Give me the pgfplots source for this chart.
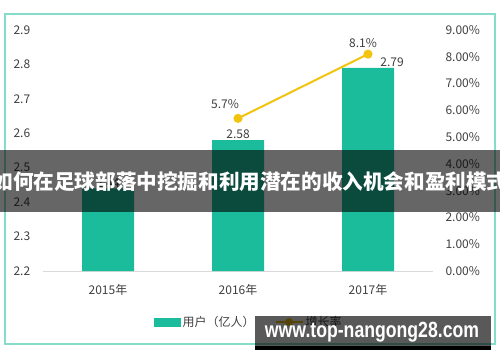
\documentclass[border=0pt]{standalone}
\usepackage{fontspec}
\setmainfont{Noto Sans CJK SC}
\newfontfamily\wmfont{Liberation Sans}
\usepackage{pgfplots}
\pgfplotsset{compat=1.18}
\definecolor{barc}{HTML}{1ABC9C}
\definecolor{gold}{HTML}{F2C40F}
\definecolor{framec}{HTML}{86DCCB}
\definecolor{txt}{HTML}{404040}
\definecolor{gridc}{HTML}{D9D9D9}
\begin{document}
\begin{tikzpicture}
\useasboundingbox (0,0) rectangle (500bp,-362bp);
\clip (0,0) rectangle (500bp,-362bp);
\fill[white] (0,0) rectangle (500bp,-362bp);
\draw[framec, line width=1.5bp] (5bp,-14bp) rectangle (495bp,-344bp);
\begin{axis}[
  scale only axis, width=390bp, height=241bp,
  at={(43bp,-271bp)}, anchor=south west,
  xmin=-0.5, xmax=2.5, ymin=2.2, ymax=2.9,
  axis x line*=bottom, axis y line*=left,
  x axis line style={gridc, line width=1bp, -},
  y axis line style={draw=none},
  major tick length=0,
  xtick={0,1,2}, xticklabels={2015年,2016年,2017年},
  ytick={2.2,2.3,2.4,2.5,2.6,2.7,2.8,2.9},
  yticklabel style={anchor=west, xshift=-33bp, /pgf/number format/fixed, /pgf/number format/precision=1},
  xticklabel style={yshift=-10bp},
  tick label style={font=\fontsize{12bp}{14bp}\selectfont, text=txt},
  /pgf/number format/assume math mode=true,
  clip=false,
]
\addplot[ybar, bar width=52bp, fill=barc, draw=none] coordinates {(0,2.44) (1,2.58) (2,2.79)};
\node[above, inner sep=1bp, text=txt, font=\fontsize{12bp}{14bp}\selectfont] at (axis cs:0,2.44) {2.44};
\node[above, inner sep=1bp, text=txt, font=\fontsize{12bp}{14bp}\selectfont] at (axis cs:1,2.58) {2.58};
\node[above, inner sep=1bp, text=txt, font=\fontsize{12bp}{14bp}\selectfont, xshift=24bp] at (axis cs:2,2.79) {2.79};
\end{axis}
\begin{axis}[
  scale only axis, width=390bp, height=241bp,
  at={(43bp,-271bp)}, anchor=south west,
  xmin=-0.5, xmax=2.5, ymin=0, ymax=9,
  axis y line*=right, axis x line=none,
  y axis line style={draw=none},
  major tick length=0,
  ytick={0,1,2,3,4,5,6,7,8,9},
  yticklabel={\pgfmathprintnumber[fixed,fixed zerofill,precision=2]{\tick}\%},
  yticklabel style={anchor=west, xshift=9bp},
  tick label style={font=\fontsize{12bp}{14bp}\selectfont, text=txt},
  /pgf/number format/assume math mode=true,
  clip=false,
  legend columns=2,
  legend style={at={(0.528,-0.212)}, anchor=center, draw=none, fill=none,
    font=\fontsize{12bp}{14bp}\selectfont, text=txt,
    /tikz/every even column/.append style={column sep=18bp}},
]
\addlegendimage{legend image code/.code={\fill[barc] (0bp,-4bp) rectangle (26bp,4bp);}}
\addlegendentry{用户（亿人）}
\addplot[gold, line width=2bp, mark=*, mark size=3.5bp,
  legend image code/.code={\draw[gold, line width=2bp] (0bp,0bp) -- (27bp,0bp); \fill[gold] (13.5bp,0bp) circle (3bp);}]
  coordinates {(1,5.7) (2,8.1)};
\addlegendentry{增长率}
\node[text=txt, font=\fontsize{12bp}{14bp}\selectfont, xshift=-13bp, yshift=14bp] at (axis cs:1,5.7) {5.7\%};
\node[text=txt, font=\fontsize{12bp}{14bp}\selectfont, xshift=-5bp, yshift=11bp] at (axis cs:2,8.1) {8.1\%};
\end{axis}
\fill[black, opacity=0.6] (0,-150bp) rectangle (500bp,-212bp);
\node[white, inner sep=0pt, font=\bfseries\fontsize{20.6bp}{24bp}\selectfont] at (250bp,-182bp) {如何在足球部落中挖掘和利用潜在的收入机会和盈利模式};
\fill[black, opacity=0.65] (255bp,-316bp) rectangle (491bp,-346bp);
\fill[black] (255bp,-346bp) rectangle (491bp,-350bp);
\node[white, inner sep=0pt] at (372bp,-332bp) {\resizebox*{214bp}{20bp}{\wmfont\bfseries www.top-nangong28.com}};
\end{tikzpicture}
\end{document}
